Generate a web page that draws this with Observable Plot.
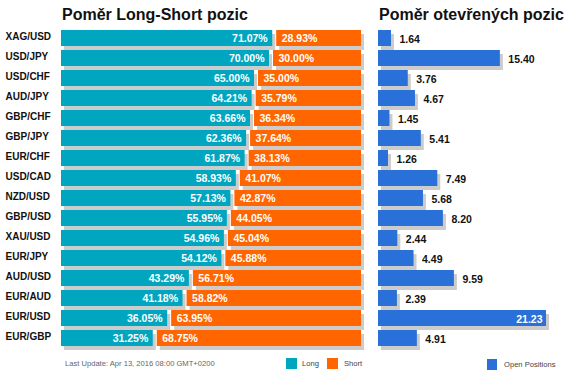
<!DOCTYPE html>
<html>
<head>
<meta charset="utf-8">
<script src="https://cdn.jsdelivr.net/npm/d3@7"></script>
<script src="https://cdn.jsdelivr.net/npm/@observablehq/plot@0.6"></script>
<style>
  html, body { margin: 0; padding: 0; background: #fff; }
  #wrap { position: relative; width: 568px; height: 376px; overflow: hidden; font-family: "Liberation Sans", Arial, sans-serif; }
  #wrap svg { position: absolute; left: 0; top: 0; }
  .title { position: absolute; top: 5px; font-weight: bold; font-size: 16px; color: #111; white-space: nowrap; line-height: 20px; }
  .foot { position: absolute; font-size: 7.6px; color: #666; white-space: nowrap; line-height: 11px; }
  .sw { position: absolute; width: 11px; height: 11px; }
</style>
</head>
<body>
<div id="wrap"></div>
<script>
const pairs = ["XAG/USD","USD/JPY","USD/CHF","AUD/JPY","GBP/CHF","GBP/JPY","EUR/CHF","USD/CAD","NZD/USD","GBP/USD","XAU/USD","EUR/JPY","AUD/USD","EUR/AUD","EUR/USD","EUR/GBP"];
const longPct  = [71.07,70.00,65.00,64.21,63.66,62.36,61.87,58.93,57.13,55.95,54.96,54.12,43.29,41.18,36.05,31.25];
const shortPct = [28.93,30.00,35.00,35.79,36.34,37.64,38.13,41.07,42.87,44.05,45.04,45.88,56.71,58.82,63.95,68.75];
const openPos  = [1.64,15.40,3.76,4.67,1.45,5.41,1.26,7.49,5.68,8.20,2.44,4.49,9.59,2.39,21.23,4.91];

const titleLeft = "Poměr Long-Short pozic";
const titleRight = "Poměr otevřených pozic";
const updateText = "Last Update: Apr 13, 2016 08:00 GMT+0200";

const rows = pairs.map((p, i) => ({pair: p, long: longPct[i], short: shortPct[i], open: openPos[i]}));

const TEAL = "#00a6bf", ORANGE = "#ff6600", BLUE = "#2a70d9", SHADOW = "#cccccc";
const FONT = "'Liberation Sans', Arial, sans-serif";

const yScale = {domain: pairs, range: [28, 348.6], paddingInner: 0.2, paddingOuter: 0.1, axis: null};

const left = Plot.plot({
  width: 568, height: 376,
  marginLeft: 61, marginRight: 207, marginTop: 0, marginBottom: 0,
  style: {fontFamily: FONT, background: "transparent", overflow: "visible"},
  x: {domain: [0, 100], axis: null},
  y: yScale,
  marks: [
    Plot.barX(rows, {x1: 0, x2: "long", y: "pair", fill: SHADOW, dx: 3, dy: 4, insetRight: 2}),
    Plot.barX(rows, {x1: "long", x2: 100, y: "pair", fill: SHADOW, dx: 3, dy: 4, insetLeft: 2}),
    Plot.barX(rows, {x1: 0, x2: "long", y: "pair", fill: TEAL, insetRight: 2}),
    Plot.barX(rows, {x1: "long", x2: 100, y: "pair", fill: ORANGE, insetLeft: 2}),
    Plot.text(rows, {x: "long", y: "pair", text: d => d.long.toFixed(2) + "%", textAnchor: "end", dx: -7, fill: "white", fontWeight: "bold", fontSize: 10.5}),
    Plot.text(rows, {x: "long", y: "pair", text: d => d.short.toFixed(2) + "%", textAnchor: "start", dx: 7, fill: "white", fontWeight: "bold", fontSize: 10.5}),
    Plot.text(rows, {frameAnchor: "left", y: "pair", text: "pair", textAnchor: "start", dx: -56, dy: -2, fill: "#111", fontWeight: "bold", fontSize: 10})
  ]
});

const right = Plot.plot({
  width: 568, height: 376,
  marginLeft: 378, marginRight: 22, marginTop: 0, marginBottom: 0,
  style: {fontFamily: FONT, background: "transparent", overflow: "visible"},
  x: {domain: [0, 21.23], axis: null},
  y: yScale,
  marks: [
    Plot.barX(rows, {x1: 0, x2: "open", y: "pair", fill: SHADOW, dx: 3, dy: 4}),
    Plot.barX(rows, {x1: 0, x2: "open", y: "pair", fill: BLUE}),
    Plot.text(rows.filter(d => d.open < 18), {x: "open", y: "pair", text: d => d.open.toFixed(2), textAnchor: "start", dx: 8, dy: 1, fill: "#111", fontWeight: "bold", fontSize: 10.5}),
    Plot.text(rows.filter(d => d.open >= 18), {x: "open", y: "pair", text: d => d.open.toFixed(2), textAnchor: "end", dx: -4, dy: 1, fill: "white", fontWeight: "bold", fontSize: 10.5})
  ]
});

const wrap = document.getElementById("wrap");
wrap.appendChild(left);
wrap.appendChild(right);

function addDiv(cls, text, css) {
  const d = document.createElement("div");
  d.className = cls;
  if (text) d.textContent = text;
  Object.assign(d.style, css);
  wrap.appendChild(d);
}
addDiv("title", titleLeft, {left: "62px"});
addDiv("title", titleRight, {left: "379px"});
addDiv("foot", updateText, {left: "65px", top: "358px"});
addDiv("sw", "", {left: "286px", top: "358px", background: TEAL});
addDiv("foot", "Long", {left: "302px", top: "358px", color: "#444"});
addDiv("sw", "", {left: "327px", top: "358px", background: ORANGE});
addDiv("foot", "Short", {left: "344px", top: "358px", color: "#444"});
addDiv("sw", "", {left: "487px", top: "359px", width: "10px", background: BLUE});
addDiv("foot", "Open Positions", {left: "504px", top: "359px", color: "#444"});
</script>
</body>
</html>
